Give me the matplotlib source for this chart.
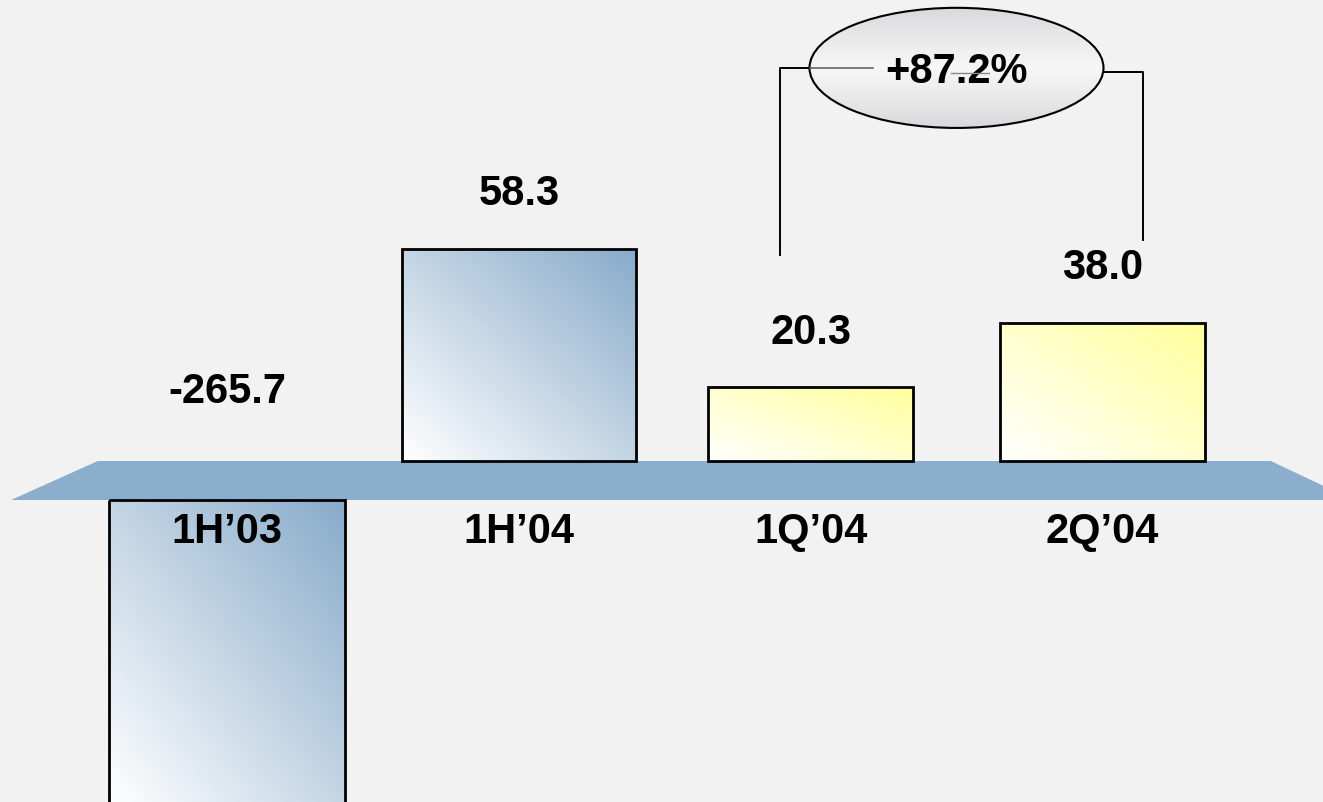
import numpy as np
import matplotlib
matplotlib.use("Agg")
import matplotlib.pyplot as plt
from matplotlib.patches import Polygon, Ellipse
from matplotlib.colors import LinearSegmentedColormap

# data
categories = ["1H\u201903", "1H\u201904", "1Q\u201904", "2Q\u201904"]
values = [-265.7, 58.3, 20.3, 38.0]
value_labels = ["-265.7", "58.3", "20.3", "38.0"]
change_label = "+87.2%"

# styling
BG = "#f2f2f2"
PLATFORM = "#8aaecb"
BLUE = "#88abca"
YELLOW = "#ffff9c"
bar_colors = [BLUE, BLUE, YELLOW, YELLOW]
bar_widths = [0.81, 0.8, 0.7, 0.7]
FONT = dict(family="Liberation Sans", weight="bold", size=30, color="black")

W, H = 1323, 802
XPX, X0 = 291.8, 227      # px per x unit, px of first bar
YPX, Y0 = 3.64, 461       # px per y unit, px of baseline
GAP = 39 / YPX            # platform thickness

fig = plt.figure(figsize=(W / 100, H / 100), dpi=100)
fig.patch.set_facecolor(BG)
ax = fig.add_axes([0, 0, 1, 1])
ax.set_facecolor(BG)
ax.axis("off")
xlim = (-X0 / XPX, (W - X0) / XPX)
ylim = (-(H - Y0) / YPX, Y0 / YPX)

x = np.arange(len(values))
bottoms = [0 if v >= 0 else -GAP for v in values]
bars = ax.bar(x, values, width=bar_widths, bottom=bottoms, facecolor="none",
              edgecolor="black", linewidth=2.0, zorder=4)


def gradient_fill(patch, color):
    x0, y0 = patch.get_x(), patch.get_y()
    w, h = patch.get_width(), patch.get_height()
    lo = max(min(y0, y0 + h), ylim[0])
    hi = min(max(y0, y0 + h), ylim[1])
    u = np.linspace(0, 1, 256)
    X, Y = np.meshgrid(u, u)
    cmap = LinearSegmentedColormap.from_list("g", ["#ffffff", color])
    im = ax.imshow((X + Y) / 2, extent=[x0, x0 + w, lo, hi], origin="lower",
                   cmap=cmap, vmin=0, vmax=1, aspect="auto", zorder=3)
    im.set_clip_path(patch)


for b, c in zip(bars, bar_colors):
    gradient_fill(b, c)

# platform
plat = Polygon([(x[0] - 0.443, 0), (x[-1] + 0.577, 0),
                (x[-1] + 0.86, -GAP), (x[0] - 0.74, -GAP)],
               closed=True, facecolor=PLATFORM, edgecolor="none", zorder=2)
ax.add_patch(plat)

# labels
for xi, v, lab, cat in zip(x, values, value_labels, categories):
    ly = v + 15 if v >= 0 else 19
    ax.text(xi, ly, lab, ha="center", va="center", zorder=6, **FONT)
    ax.text(xi, -19.5, cat, ha="center", va="center", zorder=6, **FONT)

# bracket with growth ellipse
cx, cy = (x[2] + x[3]) / 2, 108
ew, eh = 1.0075, 33
xl, xr = x[2] - 0.105, x[3] + 0.139
ax.plot([xl, xl, cx], [56.6, cy, cy], color="black", lw=1.4, zorder=5)
ax.plot([xr, xr, cx], [60.7, cy - 1.1, cy - 1.1], color="black", lw=1.4, zorder=5)
ell = Ellipse((cx, cy), ew, eh, facecolor="none", edgecolor="black", lw=1.5, zorder=8)
ax.add_patch(ell)
ell_bg = Ellipse((cx, cy), ew, eh, facecolor=BG, edgecolor="none", zorder=6)
ax.add_patch(ell_bg)
g = np.linspace(0, 1, 256).reshape(-1, 1)
gcmap = LinearSegmentedColormap.from_list(
    "e", ["#d9d9db", "#e9e9ea", "#f7f7f7", "#e9e9ea", "#d9d9db"])
im = ax.imshow(g, extent=[cx - ew / 2, cx + ew / 2, cy - eh / 2, cy + eh / 2],
               origin="lower", cmap=gcmap, aspect="auto", zorder=7)
im.set_clip_path(ell_bg)
ax.plot([cx - ew / 2, cx - 0.285], [cy, cy], color="#666666", lw=1.2, zorder=8)
ax.text(cx, cy - 1.2, change_label, ha="center", va="center", zorder=9, **FONT)
ax.plot([cx - 0.02, cx + 0.11], [cy - 1.4, cy - 1.4], color="#888888", lw=1.0, zorder=10)

ax.set_xlim(*xlim)
ax.set_ylim(*ylim)
fig.savefig("out.png", dpi=100, facecolor=BG)
